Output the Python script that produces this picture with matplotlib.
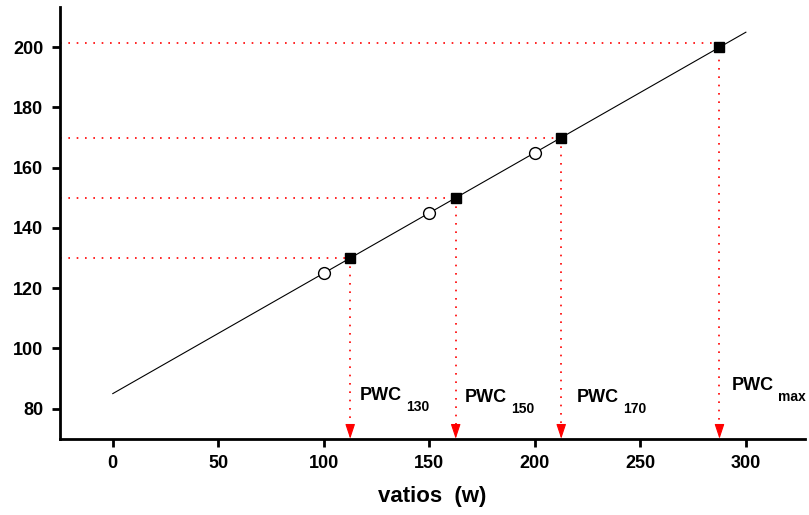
import matplotlib.pyplot as plt

plt.rcParams['font.family'] = ['Liberation Sans', 'DejaVu Sans']

# regression line endpoints
line_x = [0, 300]
line_y = [85, 205]

# measured points (open circles)
meas_x = [100, 150, 200]
meas_y = [125, 145, 165]

# PWC points (filled squares)
pwc_x = [112.5, 162.5, 212.5, 287.5]
pwc_y = [130, 150, 170, 200]
pwc_guide_y = [130, 150, 170, 201.5]
pwc_sub = ['130', '150', '170', 'max']
lab_x = [117, 167, 220, 293.5]
lab_y = [84.4, 83.7, 83.7, 87.7]

XMIN, XMAX = -25, 328
YMIN, YMAX = 70, 213.3

fig = plt.figure(figsize=(8.09, 5.15), dpi=100)
ax = fig.add_axes([0.0742, 0.148, 0.9208, 0.838])

ax.plot(line_x, line_y, color='black', lw=0.8, zorder=3)
ax.plot(meas_x, meas_y, 'o', mfc='white', mec='black', ms=8.5, mew=1.0, zorder=4)
ax.plot(pwc_x, pwc_y, 's', color='black', ms=7.5, zorder=4)

dot = (0, (1, 4))
for x, gy, sub, tx, ty in zip(pwc_x, pwc_guide_y, pwc_sub, lab_x, lab_y):
    ax.plot([XMIN, x], [gy, gy], color='red', lw=1.2, ls=dot, zorder=2)
    ax.plot([x, x], [gy, YMIN + 3], color='red', lw=1.2, ls=dot, zorder=2)
    ax.annotate('', xy=(x, YMIN), xytext=(x, YMIN + 4.5),
                arrowprops=dict(arrowstyle='-|>,head_length=0.9,head_width=0.3',
                                color='red', lw=0.8, shrinkA=0, shrinkB=0),
                zorder=5, annotation_clip=False)
    t = ax.text(tx, ty, 'PWC', fontsize=13, fontweight='bold', va='center', ha='left')
    ax.annotate(sub, xy=(1, 0), xycoords=t, xytext=(3, -2.5), textcoords='offset points',
                fontsize=10, fontweight='bold', va='center', ha='left')

ax.set_xlim(XMIN, XMAX)
ax.set_ylim(YMIN, YMAX)
ax.set_xticks([0, 50, 100, 150, 200, 250, 300])
ax.set_yticks([80, 100, 120, 140, 160, 180, 200])
for s in ['top', 'right']:
    ax.spines[s].set_visible(False)
for s in ['left', 'bottom']:
    ax.spines[s].set_linewidth(2)
ax.tick_params(direction='out', length=6, width=2, labelsize=13, pad=6)
for lbl in ax.get_xticklabels() + ax.get_yticklabels():
    lbl.set_fontweight('bold')
ax.set_xlabel('vatios  (w)', fontsize=16, fontweight='bold', labelpad=10)

fig.savefig('out.png', dpi=100)
